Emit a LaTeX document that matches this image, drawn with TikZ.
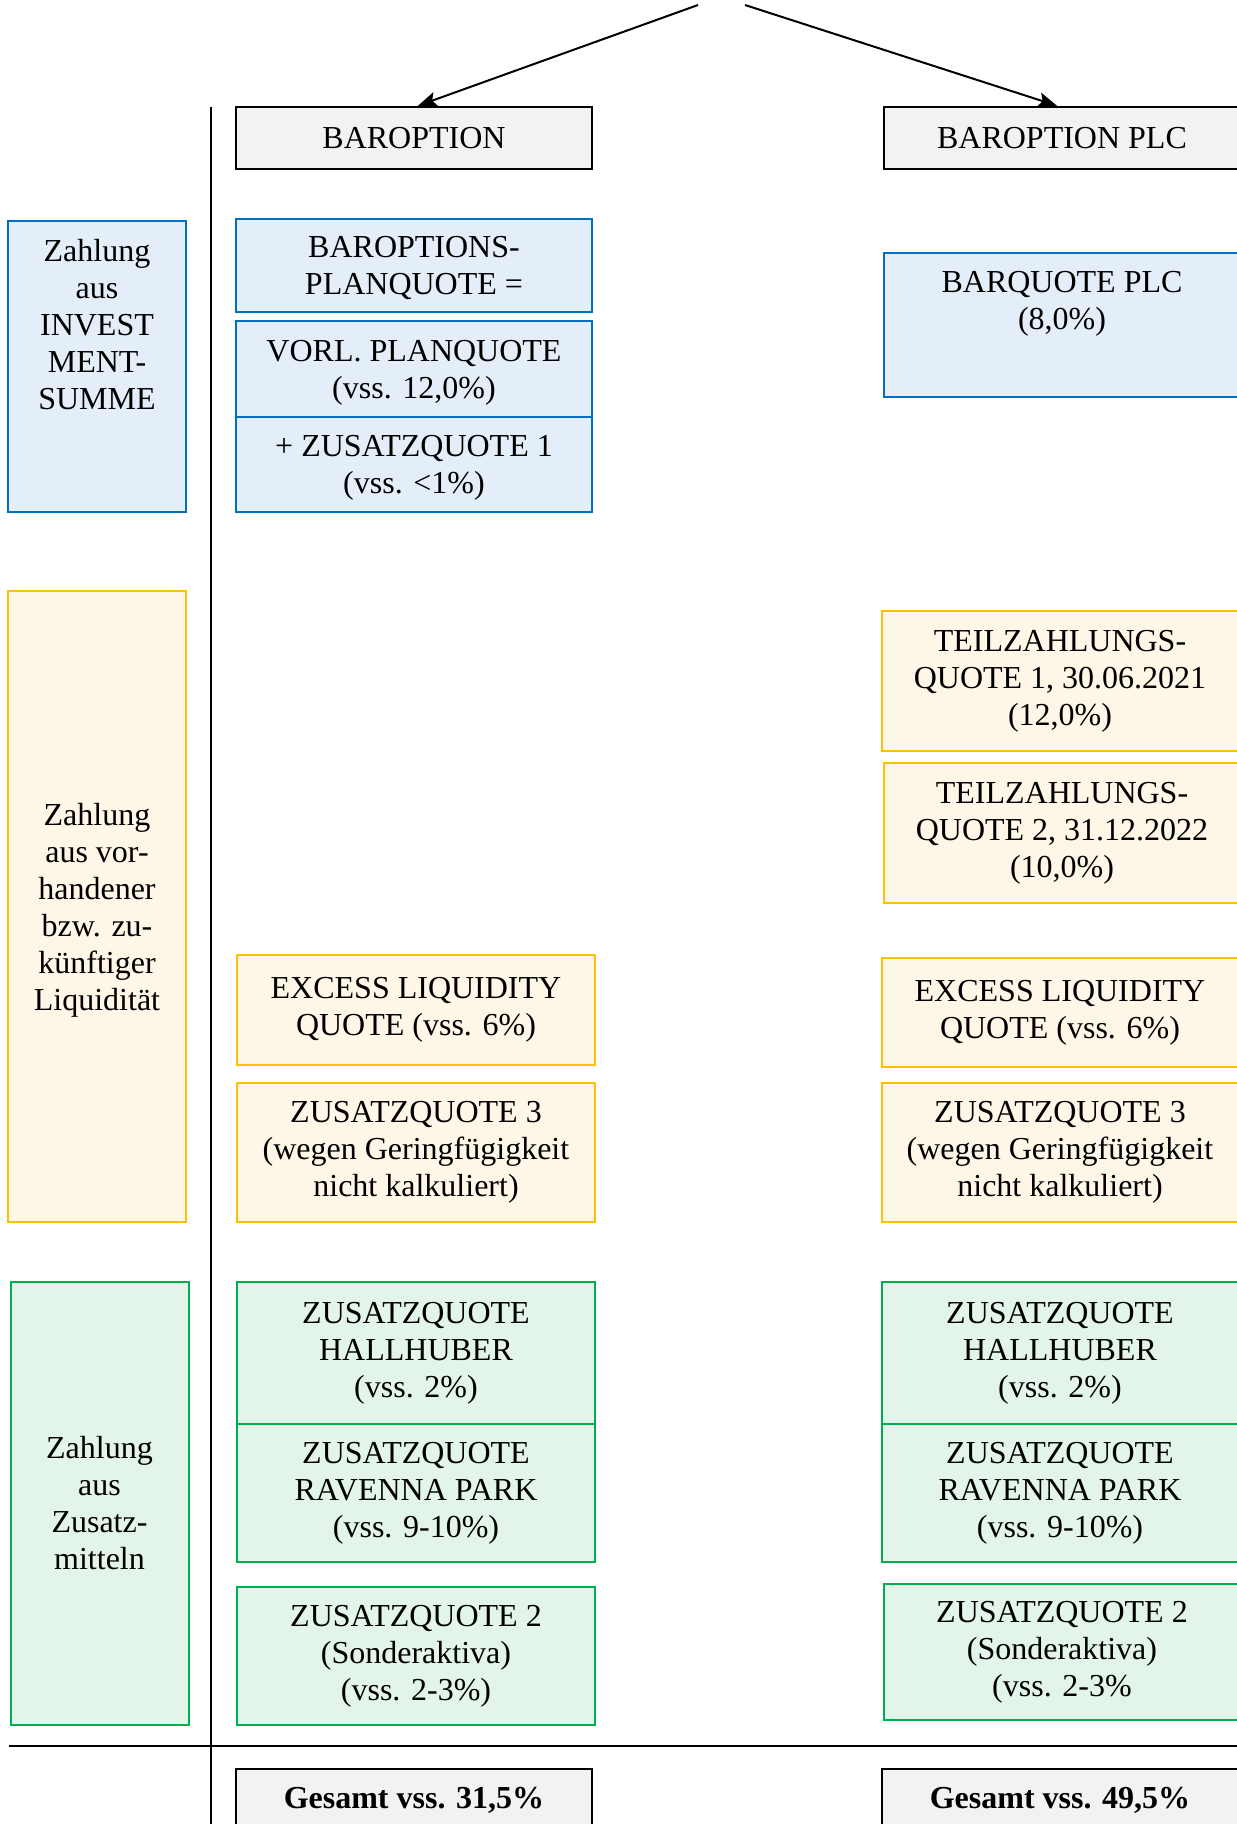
\documentclass[tikz,border=0pt]{standalone}
\usepackage{fontspec}
\setmainfont{Liberation Serif}
\usetikzlibrary{arrows.meta}

\definecolor{blueline}{HTML}{0070C0}
\definecolor{bluefill}{HTML}{E4EEF8}
\definecolor{yellowline}{HTML}{FFC000}
\definecolor{yellowfill}{HTML}{FEF6E7}
\definecolor{greenline}{HTML}{00B050}
\definecolor{greenfill}{HTML}{E3F5EA}
\definecolor{grayfill}{HTML}{F2F2F2}

\tikzset{
  quote/.style = {draw, line width=2pt, minimum width=356pt, inner sep=0pt,
    align=center, font=\fontsize{32}{37}\selectfont},
  bluequote/.style = {quote, draw=blueline, fill=bluefill},
  yellowquote/.style = {quote, draw=yellowline, fill=yellowfill},
  greenquote/.style = {quote, draw=greenline, fill=greenfill},
  headquote/.style = {quote, draw=black, line width=2.5pt, fill=grayfill, minimum height=62pt},
  side/.style = {minimum width=178pt},
  low/.style = {text depth=0pt},
  txt/.style = {inner sep=0pt, align=center, font=\fontsize{32}{37}\selectfont},
  rule/.style = {line width=2pt}
}

\begin{document}
\begin{tikzpicture}[x = 1pt, y = -1pt]
    \useasboundingbox (0,0) rectangle (1237,1824);
    % Kopf
    \coordinate (srcl) at (698,5);
    \coordinate (srcr) at (745,5);
    \node[headquote] (bar) at (414,138) {BAROPTION};
    \node[headquote] (plc) at (1062,138) {BAROPTION PLC};
    \draw[rule, -{Stealth[length=19pt, width=15pt, inset=4pt]}] (srcl) -- ([xshift=4pt]bar.north);
    \draw[rule, -{Stealth[length=19pt, width=15pt, inset=4pt]}] (srcr) -- ([xshift=-5pt]plc.north);
    % Trennlinien
    \coordinate (vtop) at (211,107);
    \coordinate (vbot) at (211,1824);
    \coordinate (hl) at (9,1746);
    \coordinate (hr) at (1237,1746);
    \draw[rule] (vtop) -- (vbot);
    \draw[rule] (hl) -- (hr);
    % Legende
    \node[bluequote, side, minimum height=291pt] (invest) at (97,366.5) {};
    \node[txt, anchor = north] (investtxt) at ([yshift=-19pt]invest.north) {Zahlung\\aus\\INVEST\\MENT-\\SUMME};
    \node[yellowquote, side, low, minimum height=631pt] (liqui) at (97,906.5) {Zahlung\\aus vor-\\handener\\bzw. zu-\\künftiger\\Liquidität};
    \node[greenquote, side, minimum height=443pt] (zusatz) at (99.5,1503.5) {Zahlung\\aus\\Zusatz-\\mitteln};
    % BAROPTION
    \node[bluequote, low, minimum height=93pt] (planq) at (414,265.5) {BAROPTIONS-\\PLANQUOTE =};
    \node[bluequote, low, minimum height=96pt] (vorl) at (414,369) {VORL. PLANQUOTE\\(vss. 12,0\%)};
    \node[bluequote, low, minimum height=95pt] (zq1) at (414,464.5) {+ ZUSATZQUOTE 1\\(vss. <1\%)};
    \node[yellowquote, minimum width=358pt, minimum height=110pt] (exl) at (416,1010) {EXCESS LIQUIDITY\\QUOTE (vss. 6\%)};
    \node[yellowquote, minimum width=358pt, minimum height=139pt] (zq3l) at (416,1152.5) {ZUSATZQUOTE 3\\(wegen Geringfügigkeit\\nicht kalkuliert)};
    \node[greenquote, minimum width=358pt, minimum height=142pt] (halll) at (416,1353) {ZUSATZQUOTE\\HALLHUBER\\(vss. 2\%)};
    \node[greenquote, minimum width=358pt, minimum height=138pt] (ravl) at (416,1493) {ZUSATZQUOTE\\RAVENNA PARK\\(vss. 9-10\%)};
    \node[greenquote, minimum width=358pt, minimum height=138pt] (zq2l) at (416,1656) {ZUSATZQUOTE 2\\(Sonderaktiva)\\(vss. 2-3\%)};
    \node[headquote] (gesl) at (414,1800) {\bfseries Gesamt vss. 31,5\%};
    % BAROPTION PLC
    \node[bluequote, minimum height=144pt] (barq) at (1062,325) {};
    \node[txt, anchor = north] (barqtxt) at ([yshift=-19pt]barq.north) {BARQUOTE PLC\\(8,0\%)};
    \node[yellowquote, minimum height=140pt] (tz1) at (1060,681) {TEILZAHLUNGS-\\QUOTE 1, 30.06.2021\\(12,0\%)};
    \node[yellowquote, minimum height=140pt] (tz2) at (1062,833) {TEILZAHLUNGS-\\QUOTE 2, 31.12.2022\\(10,0\%)};
    \node[yellowquote, minimum height=109pt] (exr) at (1060,1012.5) {EXCESS LIQUIDITY\\QUOTE (vss. 6\%)};
    \node[yellowquote, minimum height=139pt] (zq3r) at (1060,1152.5) {ZUSATZQUOTE 3\\(wegen Geringfügigkeit\\nicht kalkuliert)};
    \node[greenquote, minimum height=142pt] (hallr) at (1060,1353) {ZUSATZQUOTE\\HALLHUBER\\(vss. 2\%)};
    \node[greenquote, minimum height=138pt] (ravr) at (1060,1493) {ZUSATZQUOTE\\RAVENNA PARK\\(vss. 9-10\%)};
    \node[greenquote, minimum height=136pt] (zq2r) at (1062,1652) {ZUSATZQUOTE 2\\(Sonderaktiva)\\(vss. 2-3\%};
    \node[headquote] (gesr) at (1060,1800) {\bfseries Gesamt vss. 49,5\%};
\end{tikzpicture}
\end{document}
